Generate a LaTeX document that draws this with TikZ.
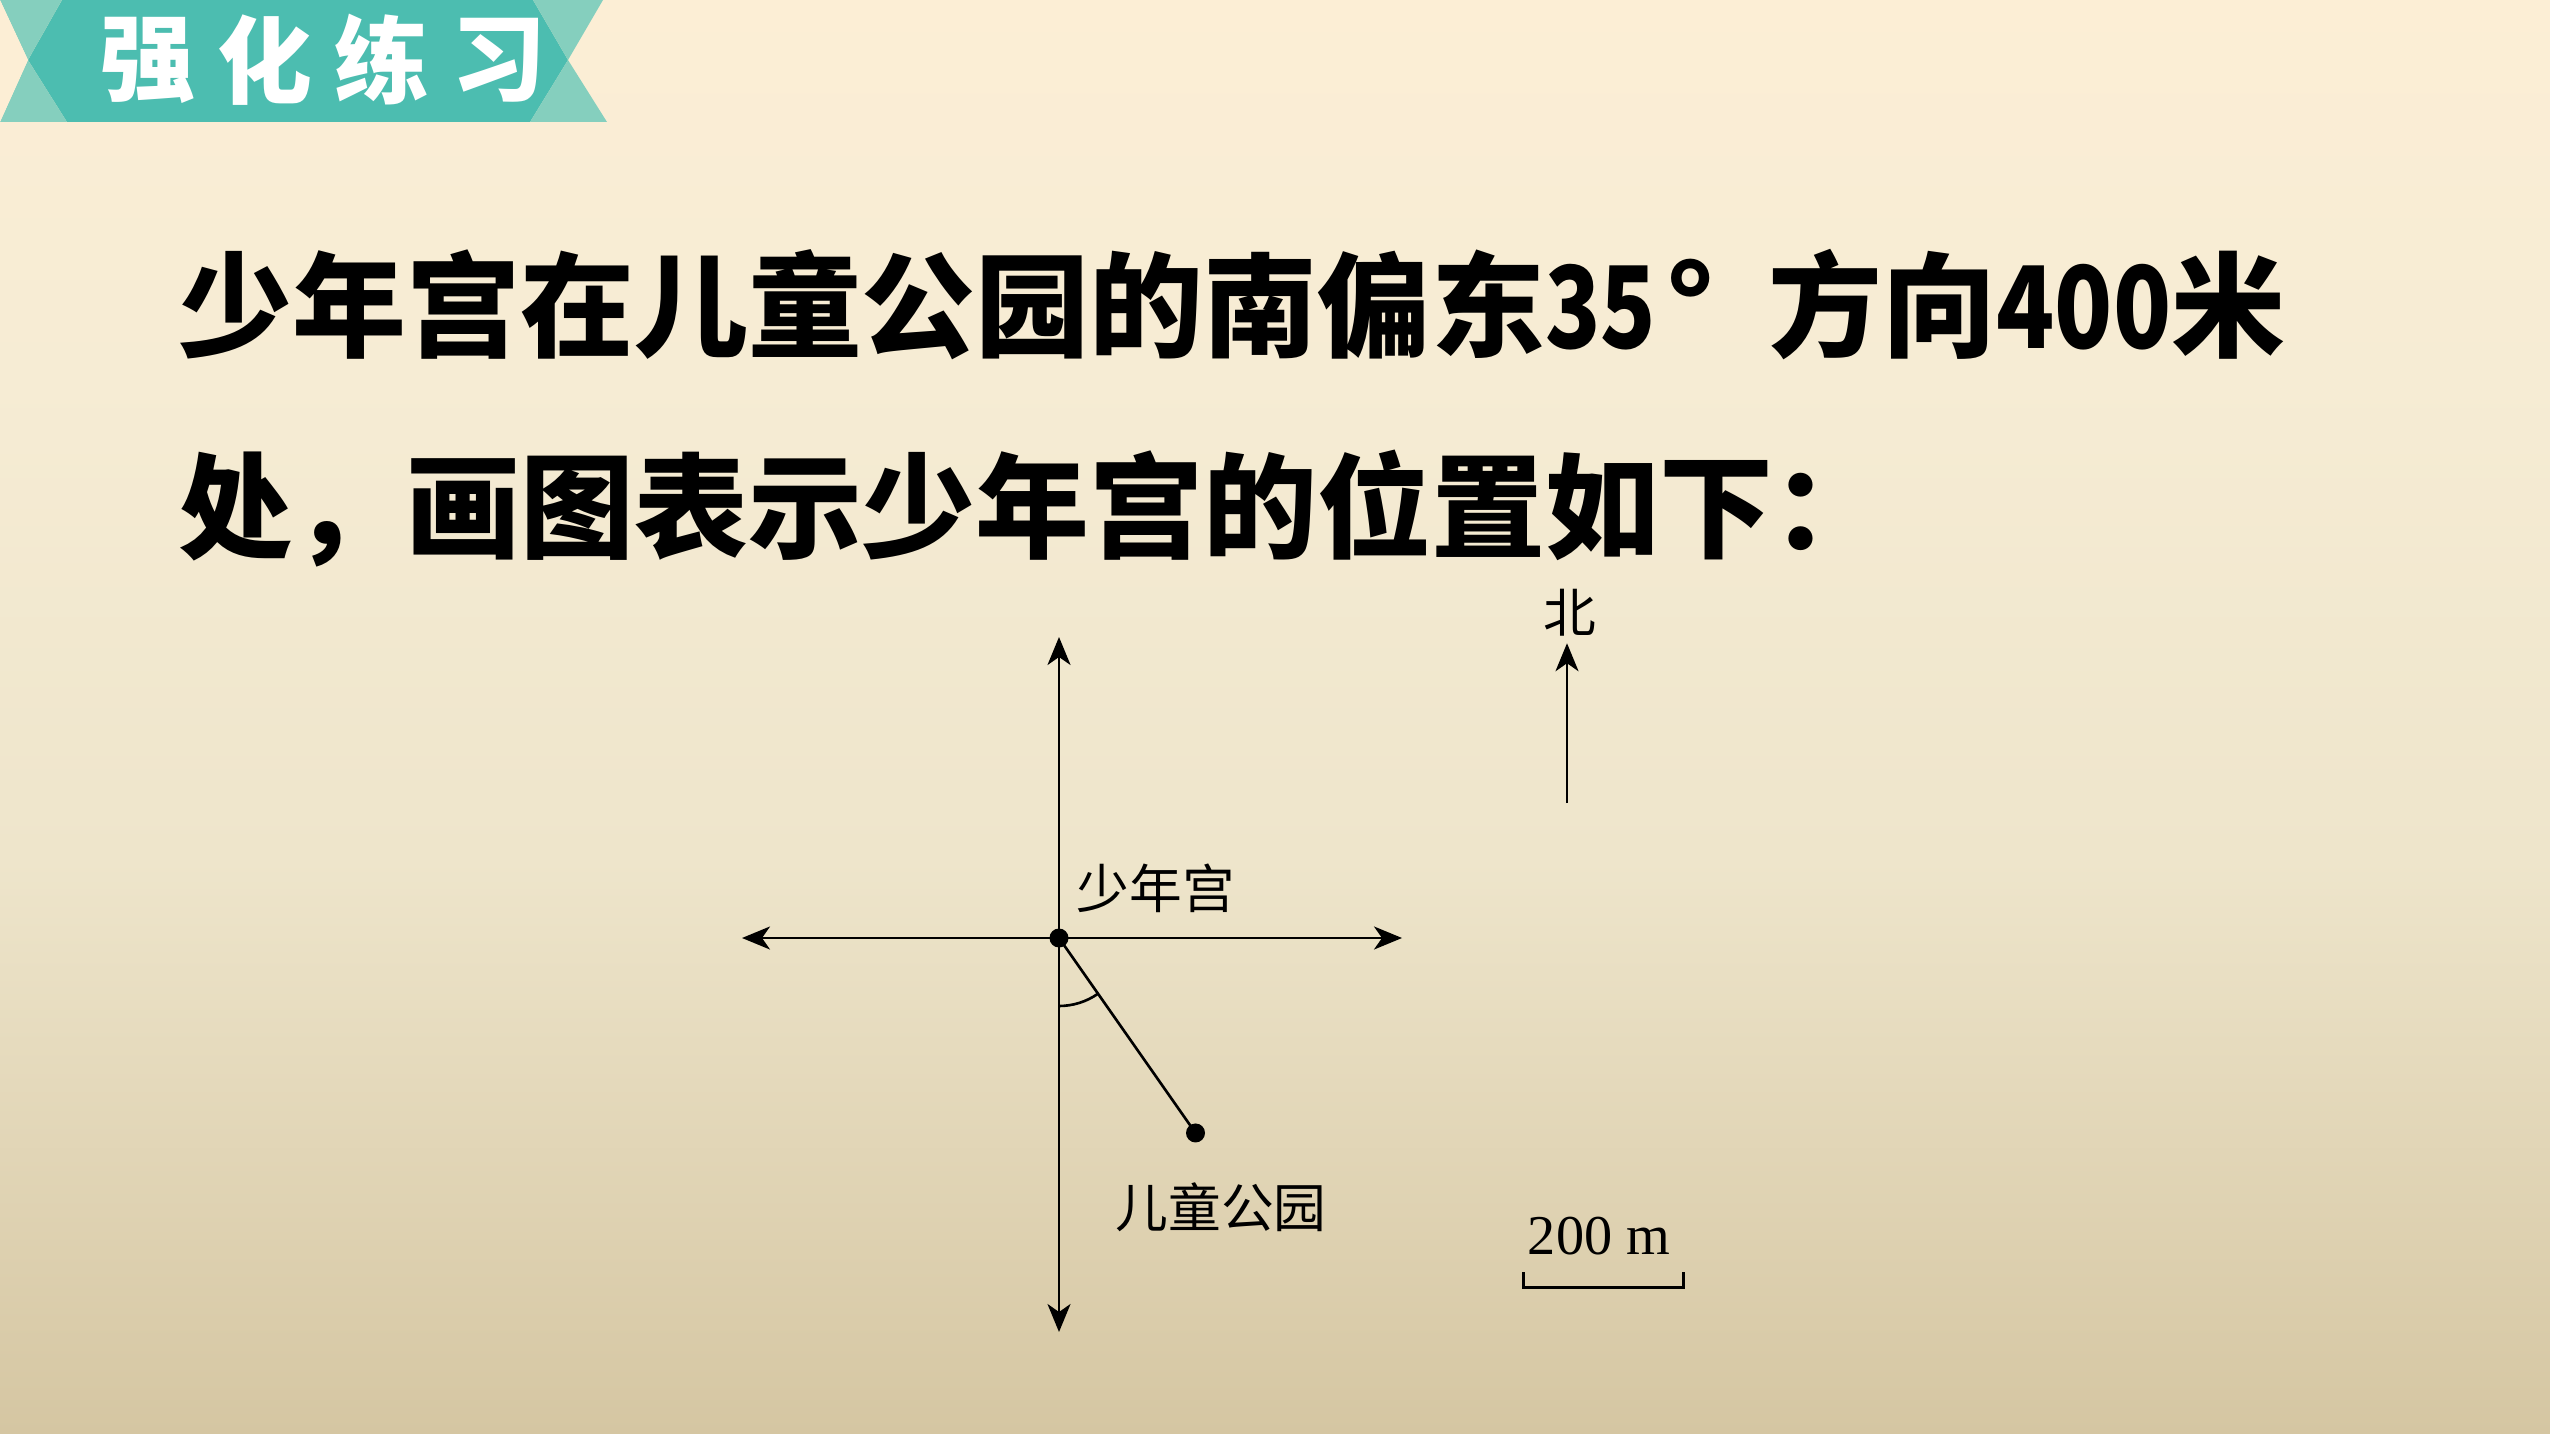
\documentclass[tikz,border=0pt]{standalone}
\usepackage{fontspec}
\usetikzlibrary{arrows.meta}
\newfontfamily\cjk{Noto Sans CJK SC}
\newfontfamily\timesfont{Liberation Serif}
\definecolor{bannerdark}{RGB}{76,189,176}
\definecolor{bannerlight}{RGB}{133,207,190}
\definecolor{bgtop}{RGB}{252,238,213}
\definecolor{bgup}{RGB}{246,236,212}
\definecolor{bgmid}{RGB}{238,229,203}
\definecolor{bgbot}{RGB}{213,198,162}
\pgfdeclareverticalshading{bgshade}{100bp}{color(0bp)=(bgbot); color(25bp)=(bgbot); color(45bp)=(bgmid); color(62bp)=(bgup); color(75bp)=(bgtop); color(100bp)=(bgtop)}
\newcommand{\axiswidth}{0.75pt}
\newcommand{\dotsize}{1.9mm}
\newcommand{\dist}{238}
\newcommand{\bearing}{35}
\newcommand{\narrow}[2]{\scalebox{#1}[1]{#2}}

\tikzset{
    axis/.style={line width=\axiswidth},
    place/.style={circle, fill=black, inner sep=0pt, minimum size=\dotsize},
    lbl/.style={font={\cjk\fontsize{15pt}{18pt}\selectfont}, inner sep=0pt},
    titletext/.style={font={\cjk\bfseries\fontsize{32.4pt}{38pt}\selectfont}, inner sep=0pt, anchor=west},
    bannertext/.style={font={\cjk\bfseries\fontsize{27pt}{30pt}\selectfont}, text=white, inner sep=0pt}
}

\begin{document}
\begin{tikzpicture}[x=0.1mm, y=-0.1mm, >={Stealth[length=2.8mm, width=2.3mm, inset=0.8mm]}]
        % background
        \shade[shading=bgshade] (0, 0) rectangle (2550, 1434);
        \useasboundingbox (0, 0) rectangle (2550, 1434);
        
        % banner
        \fill[bannerdark] (62, 0) -- (533, 0) -- (568, 60) -- (530, 122) -- (67, 122) -- (28, 60) -- cycle;
        \fill[bannerlight] (0, 0) -- (62, 0) -- (28, 60) -- cycle;
        \fill[bannerlight] (28, 60) -- (67, 122) -- (0, 122) -- cycle;
        \fill[bannerlight] (533, 0) -- (603, 0) -- (568, 60) -- cycle;
        \fill[bannerlight] (568, 60) -- (607, 122) -- (530, 122) -- cycle;
        \fill[bgtop] (0, 0) -- (28, 60) -- (0, 122) -- cycle;
        \foreach \ch [count=\i from 0] in {强, 化, 练, 习}
            \node[bannertext] (ban\i) at ({148+117*\i}, 60) {\ch};
        
        % question text
        \node[titletext] (line1) at (178, 305) {少年宫在儿童公园的南偏东\narrow{0.8}{35}\hspace{1mm}°};
        \node[titletext, anchor=east] (line1end) at (2286, 305) {方向\narrow{0.84}{400}米};
        \node[titletext] (line2) at (178, 509) {处，画图表示少年宫的位置如下：};
        
        % directions
        \coordinate (north) at (1059, 637);
        \coordinate (south) at (1059, 1332);
        \coordinate (west) at (742, 938);
        \coordinate (east) at (1402, 938);
        \draw[axis, <->] (west) -- (east);
        \draw[axis, <->] (north) -- (south);
        
        % the two places
        \node[place] (gong) at (1059, 938) {};
        \node[place] (yuan) at ({1059+\dist*sin(\bearing)}, {938+\dist*cos(\bearing)}) {};
        \draw[axis] (gong.center) -- (yuan.center);
        \draw[axis] (1059, 1006) arc[start angle=90, end angle=90-\bearing, radius=68];
        \node[lbl] (gonglbl) at (1156, 888) {少年宫};
        \node[lbl] (yuanlbl) at (1221, 1207) {儿童公园};
        
        % north arrow
        \node[lbl, inner sep=0.6mm] (bei) at (1570, 613) {北};
        \coordinate (nbase) at (1567, 803);
        \draw[axis, ->] (nbase) -- (nbase |- bei.south);
        
        % scale bar
        \coordinate (barl) at (1523, 1272);
        \coordinate (barr) at (1683, 1272);
        \draw[line width=0.85pt] (barl) -- (1523, 1287) -- (1683, 1287) -- (barr);
        \node[font={\timesfont\fontsize{16pt}{19pt}\selectfont}, inner sep=0pt] (scale) at (1599, 1236) {200 m};
    \end{tikzpicture}
\end{document}
